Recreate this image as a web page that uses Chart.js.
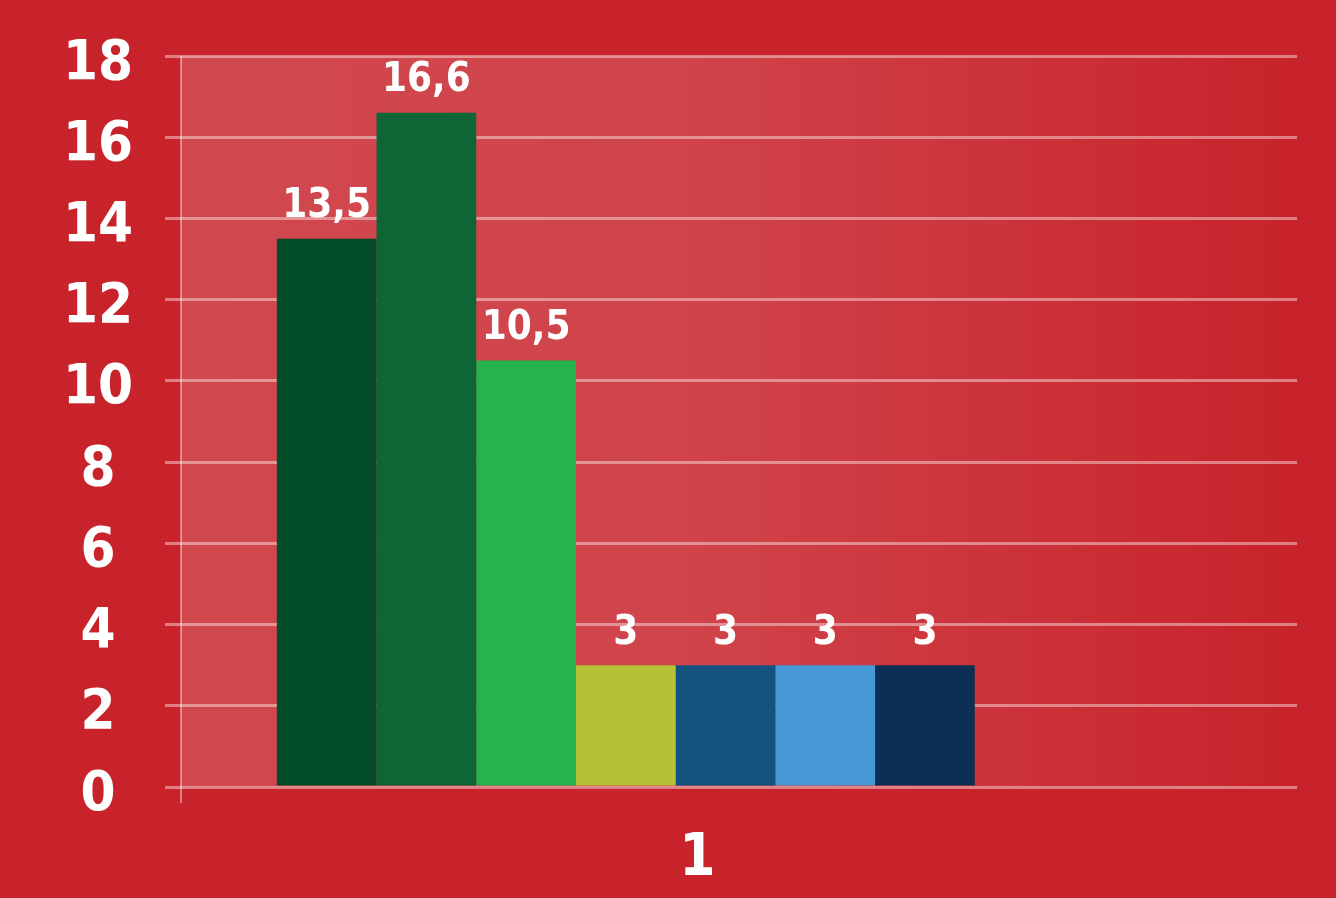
<!DOCTYPE html>
<html>
<head>
<meta charset="utf-8">
<script src="https://cdn.jsdelivr.net/npm/chart.js@4/dist/chart.umd.min.js"></script>
<style>
html,body{margin:0;padding:0;background:#c8232b;}
#wrap{width:1336px;height:898px;position:relative;}
</style>
</head>
<body>
<div id="wrap"><canvas id="c" width="1336" height="898"></canvas></div>
<script>
const categories = ['1'];
const seriesValues = [13.5, 16.6, 10.5, 3, 3, 3, 3];
const seriesColors = ['#024c27', '#0e6636', '#25b34c', '#b6c136', '#145380', '#4699d4', '#0b3053'];
const yTicks = [0, 2, 4, 6, 8, 10, 12, 14, 16, 18];

const FONT = "'Liberation Sans Narrow', 'DejaVu Sans Condensed', 'Arial Narrow', sans-serif";
const GRID = 'rgba(255,255,255,0.42)';

const datasets = seriesValues.map((v, i) => ({
  label: 'S' + (i + 1),
  data: [v],
  backgroundColor: seriesColors[i],
  borderWidth: 0
}));
// two empty slots in the group (as in the original layout)
datasets.push({ label: '', data: [null], backgroundColor: 'transparent' });
datasets.push({ label: '', data: [null], backgroundColor: 'transparent' });

const bgPlugin = {
  id: 'bg',
  beforeDraw(chart) {
    const ctx = chart.ctx, a = chart.chartArea;
    ctx.save();
    ctx.fillStyle = '#c8232b';
    ctx.fillRect(0, 0, chart.width, chart.height);
    const right = chart.scales.y2.right;
    const g = ctx.createLinearGradient(a.left, 0, right, 0);
    g.addColorStop(0, 'rgba(255,255,255,0.17)');
    g.addColorStop(0.45, 'rgba(255,255,255,0.15)');
    g.addColorStop(1, 'rgba(255,255,255,0.0)');
    ctx.fillStyle = g;
    ctx.fillRect(a.left, a.top, right - a.left, a.bottom - a.top);
    ctx.restore();
  }
};

const labelPlugin = {
  id: 'vlabels',
  afterDatasetsDraw(chart) {
    const ctx = chart.ctx;
    ctx.save();
    ctx.fillStyle = '#ffffff';
    ctx.font = 'bold 40px ' + FONT;
    ctx.textAlign = 'center';
    ctx.textBaseline = 'middle';
    chart.data.datasets.forEach((ds, i) => {
      const meta = chart.getDatasetMeta(i);
      meta.data.forEach((bar, j) => {
        const v = ds.data[j];
        if (v === null || v === undefined) return;
        ctx.fillText(String(v).replace('.', ','), bar.x, bar.y - 32);
      });
    });
    ctx.restore();
  }
};

function fixY(width) {
  return function (s) {
    s.width = width;
    s.paddingTop = 0;
    s.paddingBottom = 0;
  };
}

new Chart(document.getElementById('c'), {
  type: 'bar',
  data: { labels: categories, datasets },
  options: {
    responsive: false,
    animation: false,
    layout: { padding: { top: 56, right: 39, left: 0, bottom: 0 } },
    plugins: { legend: { display: false }, tooltip: { enabled: false } },
    datasets: { bar: { categoryPercentage: 0.824, barPercentage: 1.0 } },
    scales: {
      x: {
        grid: {
          display: true,
          drawOnChartArea: true,
          drawTicks: true,
          tickLength: 16,
          lineWidth: 2,
          color: (c) => (c.index === 0 ? GRID : 'rgba(0,0,0,0)')
        },
        border: { display: false },
        ticks: {
          color: '#ffffff',
          font: { family: FONT, size: 58, weight: 'bold' },
          padding: 22,
          labelOffset: -28
        },
        afterFit(s) { s.height = 111; s.paddingLeft = 0; s.paddingRight = 0; }
      },
      y: {
        min: 0, max: 18,
        afterBuildTicks(s) { s.ticks = yTicks.map(v => ({ value: v })); },
        grid: { color: GRID, lineWidth: 3, tickLength: 16, drawTicks: true },
        border: { display: false },
        ticks: {
          color: '#ffffff',
          font: { family: FONT, size: 56, weight: 'bold' },
          padding: 32,
          crossAlign: 'center',
          labelOffset: 8
        },
        afterFit: fixY(181)
      },
      y2: {
        position: 'right',
        min: 0, max: 18,
        afterBuildTicks(s) { s.ticks = yTicks.map(v => ({ value: v })); },
        grid: { color: GRID, lineWidth: 3, tickLength: 27, drawTicks: true, drawOnChartArea: false },
        border: { display: false },
        ticks: { display: false },
        afterFit: fixY(27)
      }
    }
  },
  plugins: [bgPlugin, labelPlugin]
});
</script>
</body>
</html>
